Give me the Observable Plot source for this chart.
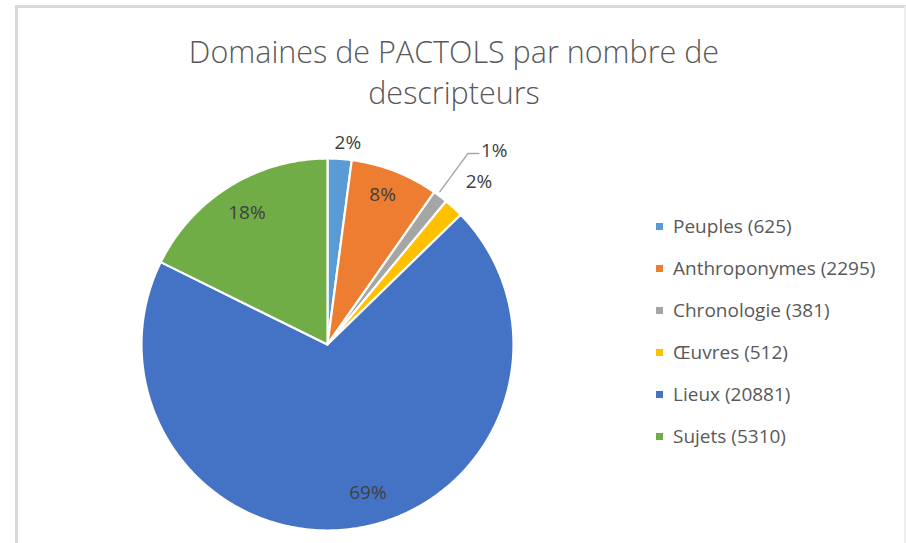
<!DOCTYPE html>
<html><head><meta charset="utf-8">
<script src="https://cdn.jsdelivr.net/npm/d3@7"></script>
<script src="https://cdn.jsdelivr.net/npm/@observablehq/plot@0.6"></script>
<style>
body{margin:0;background:#fff;font-family:"Open Sans",sans-serif;}
#page{position:relative;width:906px;height:543px;overflow:hidden;background:#fff;}
#frame{position:absolute;left:15px;top:5px;width:886px;height:560px;border-left:3px solid #d9d9d9;border-top:3px solid #d9d9d9;border-right:2px solid #eeeeee;}
#title{position:absolute;left:0;top:31px;width:908px;text-align:center;font-size:30.5px;line-height:41px;color:#595959;font-weight:300;}
#chart{position:absolute;left:0;top:120px;}
#legend{position:absolute;left:656px;top:205px;}
.item{height:42px;display:flex;align-items:center;font-size:19px;color:#595959;white-space:nowrap;}
.sw{width:7px;height:7px;margin-right:10px;flex:none;}
</style></head>
<body><div id="page"><div id="frame"></div><div id="title">Domaines de PACTOLS par nombre de<br>descripteurs</div><div id="chart"></div><div id="legend"></div></div>
<script>
const categories = ["Peuples","Anthroponymes","Chronologie","Œuvres","Lieux","Sujets"];
const counts = [625, 2295, 381, 512, 20881, 5310];
const percentLabels = ["2%","8%","1%","2%","69%","18%"];
const colors = ["#5b9bd5","#ed7d31","#a5a5a5","#ffc000","#4472c4","#70ad47"];

// label placement: radius as fraction of pie radius, angle shift in degrees
const labelPlacement = {
  "Peuples": {r: 1.09, da: 2},
  "Anthroponymes": {r: 0.855, da: -1},
  "Chronologie": {leader: true},
  "Œuvres": {r: 1.195, da: 0.3},
  "Lieux": {r: 0.825, da: -6.3},
  "Sujets": {r: 0.83, da: 0.4}
};

const total = d3.sum(counts);
let cum = 0;
const slices = categories.map((c, i) => {
  const a0 = cum / total * 2 * Math.PI; cum += counts[i];
  const a1 = cum / total * 2 * Math.PI;
  return {c, i, a0, a1, mid: (a0 + a1) / 2};
});

const pts = [];
for (const s of slices) {
  pts.push({c: s.c, x: 0, y: 0});
  const n = Math.max(2, Math.ceil((s.a1 - s.a0) / (Math.PI / 360)));
  for (let k = 0; k <= n; k++) {
    const a = s.a0 + (s.a1 - s.a0) * k / n;
    pts.push({c: s.c, x: Math.sin(a), y: Math.cos(a)});
  }
  pts.push({c: s.c, x: 0, y: 0});
}

const labels = [];
const leader = [];
for (const s of slices) {
  const p = labelPlacement[s.c];
  if (p.leader) {
    const a = s.mid - 1 * Math.PI / 180;
    const x1 = 1.02 * Math.sin(a), y1 = 1.02 * Math.cos(a);
    const x2 = 1.274 * Math.sin(a), y2 = 1.274 * Math.cos(a);
    leader.push({x: x1, y: y1}, {x: x2, y: y2}, {x: x2 + 0.059, y: y2});
    labels.push({x: x2 + 0.07, y: y2 + 0.016, text: percentLabels[s.i], anchor: "start"});
  } else {
    const a = s.mid + p.da * Math.PI / 180;
    labels.push({x: p.r * Math.sin(a), y: p.r * Math.cos(a), text: percentLabels[s.i], anchor: "middle"});
  }
}

const chart = Plot.plot({
  width: 906, height: 423, margin: 0,
  style: {fontFamily: "Open Sans", background: "transparent", overflow: "visible"},
  x: {domain: [-1, 1], range: [141, 513], axis: null},
  y: {domain: [-1, 1], range: [410, 38], axis: null},
  color: {domain: categories, range: colors},
  marks: [
    Plot.line(pts, {x: "x", y: "y", z: "c", fill: "c", stroke: "white", strokeWidth: 2.2, strokeLinejoin: "round", curve: "linear"}),
    Plot.line(leader, {x: "x", y: "y", stroke: "#a6a6a6", strokeWidth: 1.5}),
    Plot.text(labels.filter(d => d.anchor === "middle"), {x: "x", y: "y", text: "text", fontSize: 19, fill: "#404040", textAnchor: "middle"}),
    Plot.text(labels.filter(d => d.anchor === "start"), {x: "x", y: "y", text: "text", fontSize: 19, fill: "#404040", textAnchor: "start"})
  ]
});
document.getElementById("chart").appendChild(chart);

const colorScale = chart.scale("color");
const legend = document.getElementById("legend");
categories.forEach((c, i) => {
  const item = document.createElement("div");
  item.className = "item";
  const sw = document.createElement("span");
  sw.className = "sw";
  sw.style.background = colorScale.apply(c);
  const t = document.createElement("span");
  t.textContent = `${c} (${counts[i]})`;
  item.appendChild(sw); item.appendChild(t);
  legend.appendChild(item);
});
</script>
</body></html>
